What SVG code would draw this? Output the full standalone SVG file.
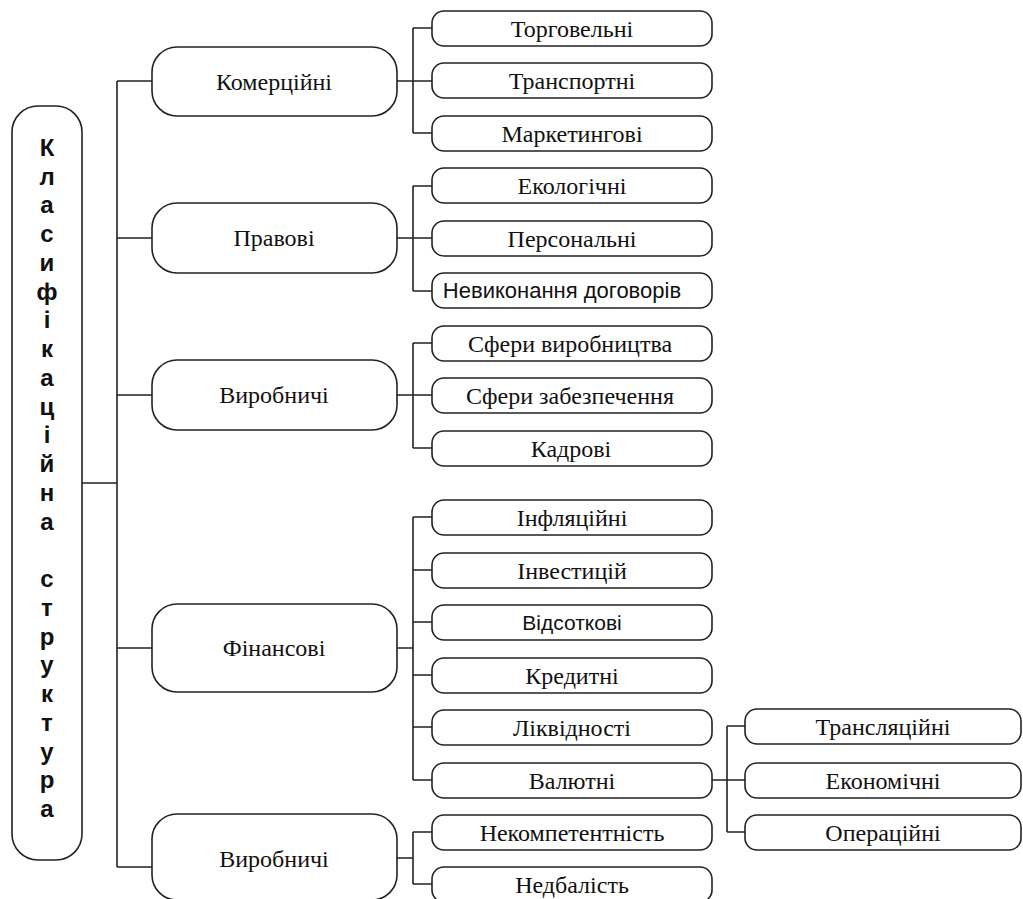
<svg xmlns="http://www.w3.org/2000/svg" width="1023" height="899" viewBox="0 0 1023 899">
<style>
.box{fill:#fff;stroke:#222;stroke-width:1.6}
.ln{fill:none;stroke:#222;stroke-width:1.6}
.t{font-family:"Liberation Serif","Times New Roman",serif;font-size:24px;fill:#111;text-anchor:middle}
.m{font-family:"Liberation Serif","Times New Roman",serif;font-size:24px;fill:#111;text-anchor:middle}
.s{font-family:"Liberation Sans",Arial,sans-serif;font-size:21px;fill:#111;text-anchor:middle}
.v{font-family:"Liberation Sans",Arial,sans-serif;font-size:24px;font-weight:bold;fill:#111;text-anchor:middle}
</style>
<rect width="1023" height="899" fill="#fff"/>
<g id="connectors" class="ln">
<path d="M82 483H117M117 81V867M117 81H152M117 238H152M117 395H152M117 648H152M117 867H152"/>
<path d="M397 81H413M413 28V133M413 28H432M413 81H432M413 133H432"/>
<path d="M397 238H413M413 186V291M413 186H432M413 238H432M413 291H432"/>
<path d="M397 395H413M413 343V448M413 343H432M413 395H432M413 448H432"/>
<path d="M397 648H413M413 517V780M413 517H432M413 570H432M413 622H432M413 675H432M413 727H432M413 780H432"/>
<path d="M397 858H413M413 832V884M413 832H432M413 884H432"/>
<path d="M712 780H727M727 726V832M727 726H745M727 780H745M727 832H745"/>
</g>
<g id="root"><rect class="box" x="12" y="106" width="70" height="754" rx="26"/>
<text class="v" x="47"><tspan x="47" y="156">К</tspan><tspan x="47" y="185">л</tspan><tspan x="47" y="213">а</tspan><tspan x="47" y="242">с</tspan><tspan x="47" y="271">и</tspan><tspan x="47" y="300">ф</tspan><tspan x="47" y="328">і</tspan><tspan x="47" y="357">к</tspan><tspan x="47" y="386">а</tspan><tspan x="47" y="415">ц</tspan><tspan x="47" y="443">і</tspan><tspan x="47" y="472">й</tspan><tspan x="47" y="501">н</tspan><tspan x="47" y="530">а</tspan><tspan x="47" y="587">с</tspan><tspan x="47" y="616">т</tspan><tspan x="47" y="645">р</tspan><tspan x="47" y="673">у</tspan><tspan x="47" y="702">к</tspan><tspan x="47" y="731">т</tspan><tspan x="47" y="760">у</tspan><tspan x="47" y="788">р</tspan><tspan x="47" y="817">а</tspan></text></g>
<g id="n-komerc"><rect class="box" x="152" y="47" width="245" height="69" rx="25"/><text class="m" x="274" y="90">Комерційні</text></g>
<g id="n-pravovi"><rect class="box" x="152" y="203" width="245" height="70" rx="25"/><text class="m" x="274" y="246">Правові</text></g>
<g id="n-vyrob1"><rect class="box" x="152" y="360" width="245" height="70" rx="25"/><text class="m" x="274" y="403">Виробничі</text></g>
<g id="n-finans"><rect class="box" x="152" y="604" width="245" height="88" rx="25"/><text class="m" x="274" y="656">Фінансові</text></g>
<g id="n-vyrob2"><rect class="box" x="152" y="814" width="245" height="86" rx="25"/><text class="m" x="274" y="867">Виробничі</text></g>
<g id="l1"><rect class="box" x="432" y="11" width="280" height="35" rx="12"/><text class="t" x="572" y="37">Торговельні</text></g>
<g id="l2"><rect class="box" x="432" y="63" width="280" height="35" rx="12"/><text class="t" x="572" y="89">Транспортні</text></g>
<g id="l3"><rect class="box" x="432" y="116" width="280" height="35" rx="12"/><text class="t" x="572" y="142">Маркетингові</text></g>
<g id="l4"><rect class="box" x="432" y="168" width="280" height="35" rx="12"/><text class="t" x="572" y="194">Екологічні</text></g>
<g id="l5"><rect class="box" x="432" y="221" width="280" height="35" rx="12"/><text class="t" x="572" y="247">Персональні</text></g>
<g id="l6"><rect class="box" x="432" y="273" width="280" height="35" rx="12"/><text class="s" x="562" y="298" style="font-size:22px">Невиконання договорів</text></g>
<g id="l7"><rect class="box" x="432" y="326" width="280" height="35" rx="12"/><text class="t" x="570" y="352">Сфери виробництва</text></g>
<g id="l8"><rect class="box" x="432" y="378" width="280" height="35" rx="12"/><text class="t" x="570" y="404">Сфери забезпечення</text></g>
<g id="l9"><rect class="box" x="432" y="431" width="280" height="35" rx="12"/><text class="t" x="571" y="457">Кадрові</text></g>
<g id="l10"><rect class="box" x="432" y="500" width="280" height="35" rx="12"/><text class="t" x="572" y="526">Інфляційні</text></g>
<g id="l11"><rect class="box" x="432" y="553" width="280" height="35" rx="12"/><text class="t" x="572" y="579">Інвестицій</text></g>
<g id="l12"><rect class="box" x="432" y="605" width="280" height="35" rx="12"/><text class="s" x="572" y="630">Відсоткові</text></g>
<g id="l13"><rect class="box" x="432" y="658" width="280" height="35" rx="12"/><text class="t" x="572" y="684">Кредитні</text></g>
<g id="l14"><rect class="box" x="432" y="710" width="280" height="35" rx="12"/><text class="t" x="572" y="736">Ліквідності</text></g>
<g id="l15"><rect class="box" x="432" y="763" width="280" height="35" rx="12"/><text class="t" x="572" y="789">Валютні</text></g>
<g id="l16"><rect class="box" x="432" y="815" width="280" height="35" rx="12"/><text class="t" x="572" y="841">Некомпетентність</text></g>
<g id="l17"><rect class="box" x="432" y="867" width="280" height="35" rx="12"/><text class="t" x="572" y="893">Недбалість</text></g>
<g id="l18"><rect class="box" x="745" y="709" width="276" height="35" rx="12"/><text class="t" x="883" y="735">Трансляційні</text></g>
<g id="l19"><rect class="box" x="745" y="763" width="276" height="35" rx="12"/><text class="t" x="883" y="789">Економічні</text></g>
<g id="l20"><rect class="box" x="745" y="815" width="276" height="35" rx="12"/><text class="t" x="883" y="841">Операційні</text></g>
</svg>
